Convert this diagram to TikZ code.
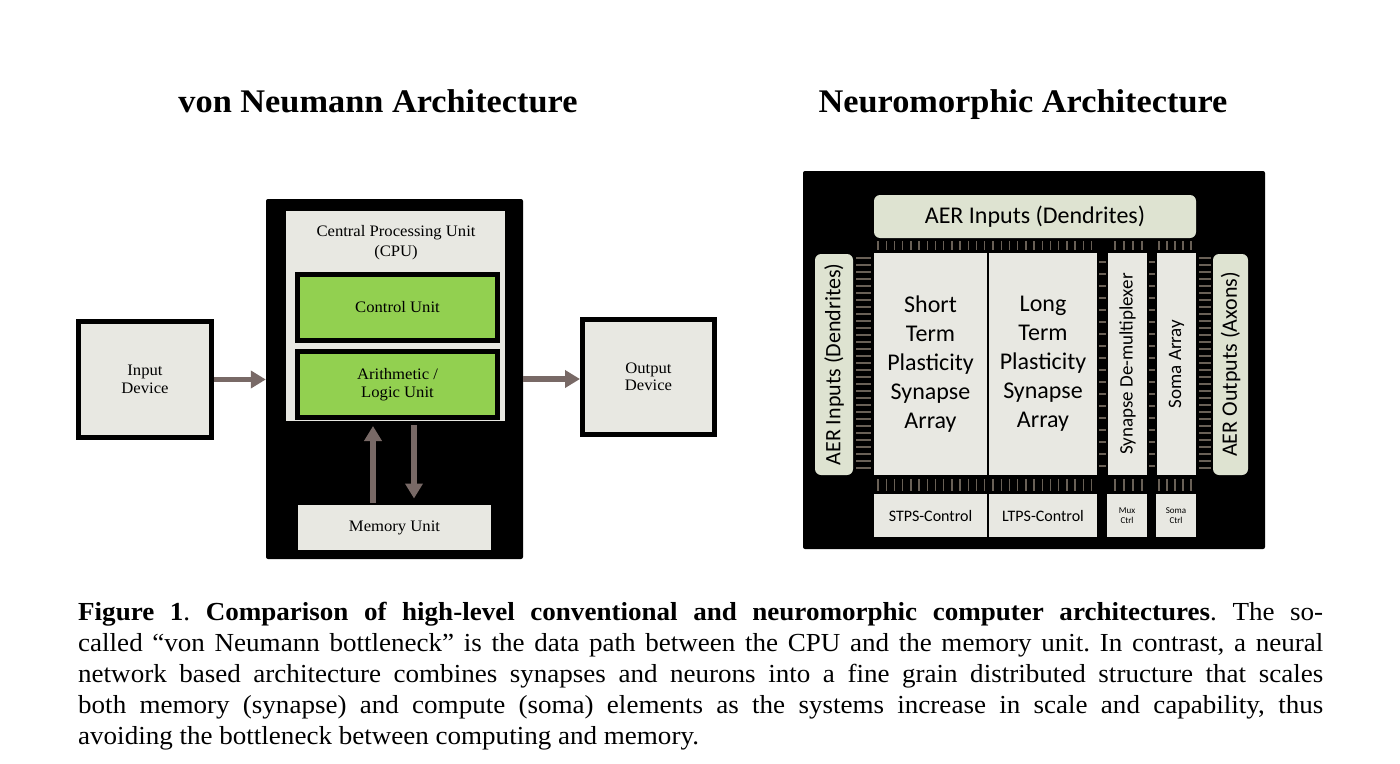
\documentclass[tikz,border=0pt]{standalone}
\usepackage{fontspec}
\setmainfont{Liberation Serif}[FakeStretch=1.04]
\newfontfamily\calib{Carlito}
\usetikzlibrary{arrows.meta}
\definecolor{boxgray}{RGB}{232,232,226}
\definecolor{aergreen}{RGB}{222,227,209}
\definecolor{cpugreen}{RGB}{146,208,80}
\definecolor{arrowgray}{RGB}{120,105,102}
\definecolor{tickgray}{RGB}{105,96,86}
\tikzset{
  title/.style={anchor=base, font=\bfseries\fontsize{33}{38}\selectfont},
  devbox/.style={draw=black, line width=5pt, fill=boxgray, inner sep=0pt,
    align=center, font=\fontsize{16}{17.5}\selectfont},
  unitbox/.style={devbox, fill=cpugreen, minimum width=200pt, minimum height=66pt},
  panel/.style={fill=black, inner sep=0pt, rounded corners=2pt},
  flow/.style={draw=arrowgray, line width=5.5pt, -{Triangle[width=17pt,length=15pt]}},
  neurobox/.style={fill=boxgray, inner sep=0pt, align=center,
    font=\calib\fontsize{24}{29}\selectfont},
  aerbox/.style={fill=aergreen, rounded corners=6pt, inner sep=0pt,
    font=\calib\fontsize{22}{26}\selectfont},
  ctrlbox/.style={neurobox, font=\calib\fontsize{16}{18}\selectfont},
  vtick/.style={draw=tickgray, line width=1.4pt},
  caption/.style={anchor=north west, inner sep=0pt, text width=1245pt,
    align=justify, font=\fontsize{26}{31}\selectfont}
}
\begin{document}
\begin{tikzpicture}[x=1pt,y=-1pt]
  \useasboundingbox[fill=white] (0,0) rectangle (1400,763);

  % titles
  \node[title] (vntitle) at (378,112) {von Neumann Architecture};
  \node[title] (nmtitle) at (1023,112) {Neuromorphic Architecture};

  % von Neumann side
  \node[panel, minimum width=257pt, minimum height=360pt] (cpu) at (394.5,379) {};
  \node[fill=boxgray, inner sep=0pt, minimum width=219pt, minimum height=210pt] (cpuarea) at (395.5,316) {};
  \node[align=center, font=\fontsize{16}{20}\selectfont] (cpulbl) at (396,243) {Central Processing Unit\\(CPU)};
  \node[unitbox] (ctrl) at (397.5,307.5) {Control Unit};
  \node[unitbox] (alu) at (397.5,384.5) {Arithmetic /\\Logic Unit};
  \node[devbox, draw=none, minimum width=193pt, minimum height=45pt] (mem) at (394.5,527.5) {Memory Unit};
  \node[devbox, minimum width=133pt, minimum height=116pt] (inp) at (145,379.5) {Input\\Device};
  \node[devbox, minimum width=132pt, minimum height=115pt] (out) at (648.5,377) {Output\\Device};

  \draw[flow] (inp.east) -- (inp.east -| cpu.west);
  \draw[flow] (cpu.east) -- (cpu.east -| out.west);
  \draw[flow] ([xshift=-21.5pt]mem.north) -- ([xshift=-24.5pt,yshift=-6pt]alu.south);
  \draw[flow] ([xshift=16.5pt,yshift=-5pt]alu.south) -- ([xshift=19.5pt,yshift=4pt]mem.north);

  % neuromorphic side
  \node[panel, minimum width=462pt, minimum height=378pt] (chip) at (1034,360) {};
  \node[aerbox, minimum width=322pt, minimum height=43pt, font=\calib\fontsize{24}{28}\selectfont] (aertop) at (1035,216.5) {AER Inputs (Dendrites)};
  \node[aerbox, rotate=90, minimum width=221pt, minimum height=38pt] (aerin) at (834,364.5) {AER Inputs (Dendrites)};
  \node[aerbox, rotate=90, minimum width=221pt, minimum height=35pt] (aerout) at (1230.5,364.5) {AER Outputs (Axons)};
  \node[neurobox, minimum width=113pt, minimum height=222pt] (stps) at (930.5,364) {Short\\Term\\Plasticity\\Synapse\\Array};
  \node[neurobox, minimum width=108pt, minimum height=222pt] (ltps) at (1043,364) {Long\\Term\\Plasticity\\Synapse\\Array};
  \node[neurobox, rotate=90, minimum width=222pt, minimum height=39pt, font=\calib\fontsize{19}{22}\selectfont] (demux) at (1127.5,364) {Synapse De-multiplexer};
  \node[neurobox, rotate=90, minimum width=222pt, minimum height=39pt, font=\calib\fontsize{19}{22}\selectfont] (soma) at (1176.5,364) {Soma Array};
  \node[ctrlbox, minimum width=113pt, minimum height=43pt] (stpsctrl) at (930.5,515.5) {STPS-Control};
  \node[ctrlbox, minimum width=108pt, minimum height=43pt] (ltpsctrl) at (1043,515.5) {LTPS-Control};
  \node[ctrlbox, minimum width=40pt, minimum height=43pt, font=\calib\fontsize{9}{10}\selectfont] (muxctrl) at (1127,515.5) {Mux\\Ctrl};
  \node[ctrlbox, minimum width=40pt, minimum height=43pt, font=\calib\fontsize{9}{10}\selectfont] (somactrl) at (1176,515.5) {Soma\\Ctrl};

  % synapse wiring ticks
  \foreach \a/\s/\n in {878/8.2/13, 993/8.2/12, 1115/9/3, 1159/8/4} {
    \foreach \i in {0,...,\n} {
      \draw[vtick] ({\a+\s*\i},241) -- ({\a+\s*\i},250);
      \draw[vtick] ({\a+\s*\i},479) -- ({\a+\s*\i},491);
    }
  }
  \foreach \i in {0,...,30} {
    \draw[vtick] (856,{258+7*\i}) -- (871,{258+7*\i});
    \draw[vtick] (1199,{258+7*\i}) -- (1211,{258+7*\i});
  }
  \foreach \i in {0,...,17} {
    \draw[vtick] (1099,{262+12*\i}) -- (1106,{262+12*\i});
    \draw[vtick] (1149,{262+12*\i}) -- (1155,{262+12*\i});
  }

  % caption
  \node[caption] (cap) at (78,602) {\frenchspacing\spaceskip=0pt\xspaceskip=0pt%
    \makebox[1245pt][s]{\textbf{Figure 1}. \textbf{Comparison of high-level conventional and neuromorphic computer architectures}. The so-}\\
    \makebox[1245pt][s]{called “von Neumann bottleneck” is the data path between the CPU and the memory unit. In contrast, a neural}\\
    \makebox[1245pt][s]{network based architecture combines synapses and neurons into a fine grain distributed structure that scales}\\
    \makebox[1245pt][s]{both memory (synapse) and compute (soma) elements as the systems increase in scale and capability, thus}\\
    avoiding the bottleneck between computing and memory.};
\end{tikzpicture}
\end{document}
